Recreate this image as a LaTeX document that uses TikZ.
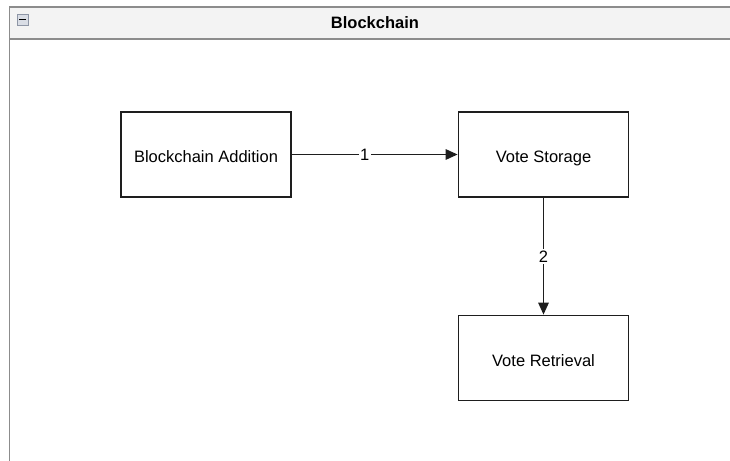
\documentclass[tikz,border=0pt]{standalone}
\usepackage{fontspec}
\setmainfont{Liberation Sans}
\usetikzlibrary{arrows.meta}
\definecolor{frameline}{HTML}{8C8C8C}
\definecolor{headfill}{HTML}{F3F3F3}
\definecolor{iconfill}{HTML}{D9DDE5}
\definecolor{iconline}{HTML}{8E96A6}
\definecolor{ink}{HTML}{1E1E1E}
\tikzset{
  block/.style={draw=ink, line width=1.8pt, fill=white, minimum width=170pt,
    minimum height=85pt, inner sep=0pt, text height=16.8pt, text depth=0pt,
    font=\fontsize{16.5}{19}\selectfont},
  flow/.style={draw=ink, line width=1.6pt,
    -{Triangle[length=12pt, width=10.5pt]}},
  flowlabel/.style={fill=white, inner sep=1.5pt, font=\fontsize{16.5}{19}\selectfont},
  frame/.style={draw=frameline, line width=1.6pt},
}
\begin{document}
\begin{tikzpicture}[x=1pt, y=1pt]
\useasboundingbox (0,0) rectangle (730,-460);
% container header
\fill[headfill] (9.5,-7) rectangle (735,-39);
\draw[frame] (735,-7) -- (9.5,-7) -- (9.5,-465);
\draw[frame] (9.5,-39) -- (735,-39);
\node[font=\bfseries\fontsize{16.5}{19}\selectfont] (title) at (375,-23) {Blockchain};
% collapse button
\draw[iconline, fill=iconfill, line width=0.8pt] (17,-14) rectangle (28,-25);
\draw[black, line width=1.6pt] (19,-19.5) -- (26,-19.5);
% blocks
\node[block] (add) at (206,-154.5) {Blockchain Addition};
\node[block] (store) at (543.5,-154.5) {Vote Storage};
\node[block] (get) at (543.5,-358) {Vote Retrieval};
% connectors
\draw[flow] (add) -- node[flowlabel, pos=0.44] {1} (store);
\draw[flow] (store) -- node[flowlabel, pos=0.5] {2} (get);
\end{tikzpicture}
\end{document}
